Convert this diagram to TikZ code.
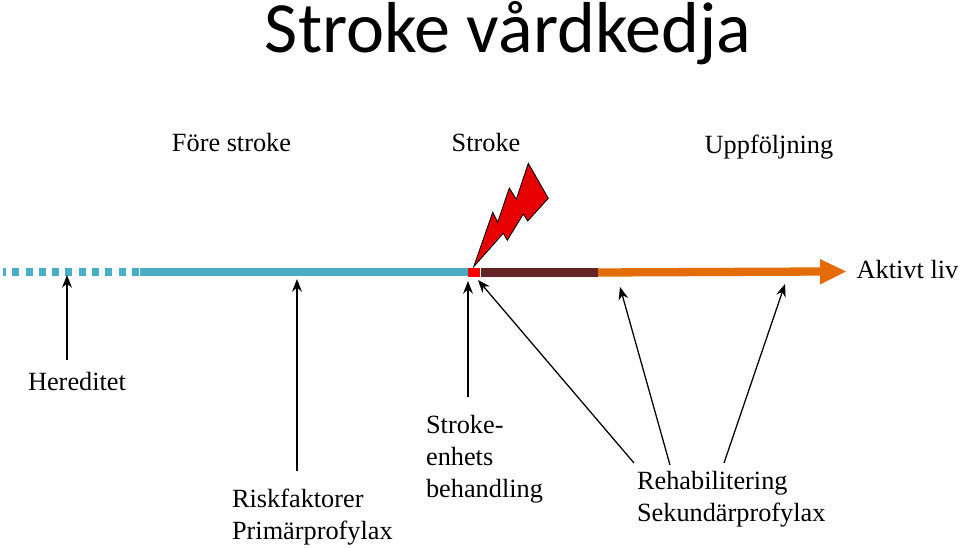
\documentclass[tikz,border=0pt]{standalone}
\usepackage{fontspec}
\setmainfont{Liberation Serif}
\newfontfamily\titlefont{Carlito}
\usetikzlibrary{arrows.meta}
\definecolor{barblue}{HTML}{4BACC6}
\definecolor{barbrown}{HTML}{632523}
\definecolor{barorange}{HTML}{E36C09}
\definecolor{boltred}{HTML}{E60000}
\tikzset{
    label/.style={font=\fontsize{18.7}{22.75}\selectfont, inner sep=2pt},
    pil/.style={-{Stealth[length=9pt,width=7pt]}, line width=0.9pt},
    bar/.style={line width=5.9pt}
}
\begin{document}
\begin{tikzpicture}[x=0.025cm,y=-0.025cm]
    \useasboundingbox (0,0) rectangle (960,547);
    % title and phases
    \node[inner sep=0pt] (title) at (508,33) {\titlefont\fontsize{51.3}{60}\selectfont Stroke vårdkedja};
    \node[label] (fore) at (231.5,143) {Före stroke};
    \node[label] (stroke) at (486,143) {Stroke};
    \node[label] (uppf) at (769,147) {Uppföljning};
    % time line
    \draw[bar, barblue, dash pattern=on 5pt off 4.46pt] (139,272) -- (3,272);
    \draw[bar, barblue] (140,272) -- (468,272);
    \draw[bar, barbrown] (480.5,272.5) -- (598,272.5);
    \draw[bar, barorange] (598,272.5) -- (822,271.5);
    \fill[barorange] (820,259) -- (846,271.5) -- (820,284.5) -- cycle;
    \fill[red] (468,268) rectangle (479.5,276.5);
    \filldraw[fill=boltred, line width=0.6pt] (473.7,266.7) -- (492.7,212.3) -- (497.7,222.3) -- (509.3,188) -- (516.3,199.3) -- (528.3,163.3) -- (548.3,198.3) -- (527.7,221) -- (523.3,214) -- (507.3,240.3) -- (503.3,233.3) -- cycle;
    \node[label] (aktivt) at (907.5,269) {Aktivt liv};
    % labels below
    \node[label] (hered) at (77,381) {Hereditet};
    \node[label, align=left, anchor=west] (risk) at (229,517) {Riskfaktorer\\Primärprofylax};
    \node[label, align=left, anchor=west] (enhet) at (423,459) {Stroke-\\enhets\\behandling};
    \node[label, align=left, anchor=west] (rehab) at (634,499) {Rehabilitering\\Sekundärprofylax};
    % arrow ends on the line
    \coordinate (tipHered) at (67,275);
    \coordinate (tipRisk) at (297,279);
    \coordinate (tipEnhet) at (468,281);
    \coordinate (tipAkut) at (478,280);
    \coordinate (tipRehab) at (620,287);
    \coordinate (tipSek) at (785,284);
    \coordinate (fromAkut) at (634,463);
    \coordinate (fromRehab) at (670,465);
    \coordinate (fromSek) at (724,463);
    \draw[pil, shorten <=6.4pt] (hered.north -| tipHered) -- (tipHered);
    \draw[pil, shorten <=10.7pt] (risk.north -| tipRisk) -- (tipRisk);
    \draw[pil, shorten <=10.7pt] (enhet.north -| tipEnhet) -- (tipEnhet);
    \draw[pil] (fromAkut) -- (tipAkut);
    \draw[pil] (fromRehab) -- (tipRehab);
    \draw[pil] (fromSek) -- (tipSek);
\end{tikzpicture}
\end{document}
